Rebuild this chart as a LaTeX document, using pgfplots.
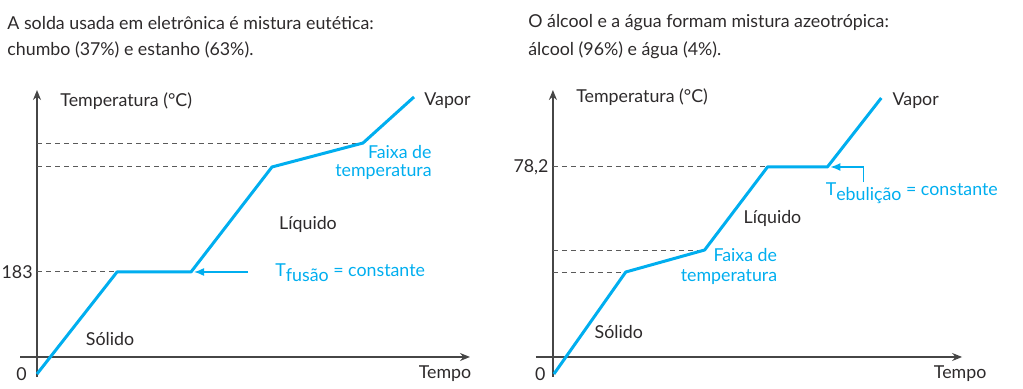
\documentclass[border=0pt]{standalone}
\usepackage{pgfplots}
\pgfplotsset{compat=1.18}
\usepackage{fontspec}
\setmainfont{Lato}
\usetikzlibrary{arrows.meta}
\definecolor{cyanb}{RGB}{0,174,239}
\definecolor{txt}{RGB}{45,42,43}
\definecolor{axc}{RGB}{70,70,70}
\definecolor{dsh}{RGB}{90,90,90}
\begin{document}
\begin{tikzpicture}[font=\fontsize{8.9}{10.5}\selectfont, every node/.style={text=txt, inner sep=0pt}]
\pgfplotsset{panel/.style={scale only axis, width=255.5pt, height=194.5pt, hide axis, clip=false, anchor=south west}}
% ---------- left panel ----------
\begin{axis}[panel, at={(0,0)}, xmin=-37, xmax=474, ymin=-26.91, ymax=671.0]
\draw[axc, line width=0.75pt, -{Stealth[length=5pt,width=4pt]}] (axis cs:0,-5.4) -- (axis cs:0,509.5);
\draw[axc, line width=0.75pt, -{Stealth[length=5pt,width=4pt]}] (axis cs:-17,30.5) -- (axis cs:433,30.5);
\addplot[dsh, line width=0.5pt, dash pattern=on 2.5pt off 2pt] coordinates {(0,414.4) (326,414.4)};
\addplot[dsh, line width=0.5pt, dash pattern=on 2.5pt off 2pt] coordinates {(0,371.4) (235,371.4)};
\addplot[dsh, line width=0.5pt, dash pattern=on 2.5pt off 2pt] coordinates {(0,183) (80,183)};
\addplot[cyanb, line width=1.5pt, line join=round] coordinates {(0,0) (80,183) (154,183) (235,371.4) (326,414.4) (377,497.0)};
\draw[cyanb, line width=0.75pt, -{Latex[length=5pt,width=4pt]}] (axis cs:211,183) -- (axis cs:157,183);
\node[anchor=east] at (axis cs:-4,183) {183};
\node[anchor=east] at (axis cs:-10,0) {0};
\node[anchor=west] at (axis cs:23,489.8) {Temperatura (°C)};
\node[anchor=west] at (axis cs:387,489.8) {Vapor};
\node[anchor=east, text=cyanb] at (axis cs:395,398.3) {Faixa de};
\node[anchor=east, text=cyanb] at (axis cs:395,362.4) {temperatura};
\node at (axis cs:271,269.1) {Líquido};
\node at (axis cs:73,62.8) {Sólido};
\node at (axis cs:408,0) {Tempo};
\node[anchor=base west, text=cyanb] at (axis cs:238,174.6) {T\raisebox{-0.55ex}{fusão} = constante};
\node[anchor=west] at (axis cs:-30,629.7) {A solda usada em eletrônica é mistura eutética:};
\node[anchor=west] at (axis cs:-30,581.3) {chumbo (37\%) e estanho (63\%).};
\end{axis}
% ---------- right panel ----------
\begin{axis}[panel, at={(255.5pt,0)}, xmin=-42, xmax=470, ymin=-5.667, ymax=141.29]
\draw[axc, line width=0.75pt, -{Stealth[length=5pt,width=4pt]}] (axis cs:0,-1.13) -- (axis cs:0,107.29);
\draw[axc, line width=0.75pt, -{Stealth[length=5pt,width=4pt]}] (axis cs:-17,6.42) -- (axis cs:410,6.42);
\addplot[dsh, line width=0.5pt, dash pattern=on 2.5pt off 2pt] coordinates {(0,38.53) (73,38.53)};
\addplot[dsh, line width=0.5pt, dash pattern=on 2.5pt off 2pt] coordinates {(0,46.84) (152,46.84)};
\addplot[dsh, line width=0.5pt, dash pattern=on 2.5pt off 2pt] coordinates {(0,78.2) (215,78.2)};
\addplot[cyanb, line width=1.5pt, line join=round] coordinates {(1,0) (73,38.53) (152,46.84) (215,78.2) (275,78.2) (329,104.27)};
\draw[cyanb, line width=0.75pt, -{Latex[length=5pt,width=4pt]}] (axis cs:311,72.5) -- (axis cs:311,78.2) -- (axis cs:278,78.2);
\node[anchor=east] at (axis cs:-4,78.2) {78,2};
\node[anchor=east] at (axis cs:-7,0) {0};
\node[anchor=west] at (axis cs:23,104.6) {Temperatura (°C)};
\node[anchor=west] at (axis cs:340,103.1) {Vapor};
\node at (axis cs:220,58.9) {Líquido};
\node[anchor=east, text=cyanb] at (axis cs:225,44.96) {Faixa de};
\node[anchor=east, text=cyanb] at (axis cs:225,36.6) {temperatura};
\node at (axis cs:66,15.9) {Sólido};
\node at (axis cs:408,0) {Tempo};
\node[anchor=base west, text=cyanb] at (axis cs:273,67.6) {T\raisebox{-0.55ex}{ebulição} = constante};
\node[anchor=west] at (axis cs:-25,132.6) {O álcool e a água formam mistura azeotrópica:};
\node[anchor=west] at (axis cs:-25,122.4) {álcool (96\%) e água (4\%).};
\end{axis}
\path (0,0) rectangle (511.5pt,194.5pt);
\end{tikzpicture}
\end{document}
